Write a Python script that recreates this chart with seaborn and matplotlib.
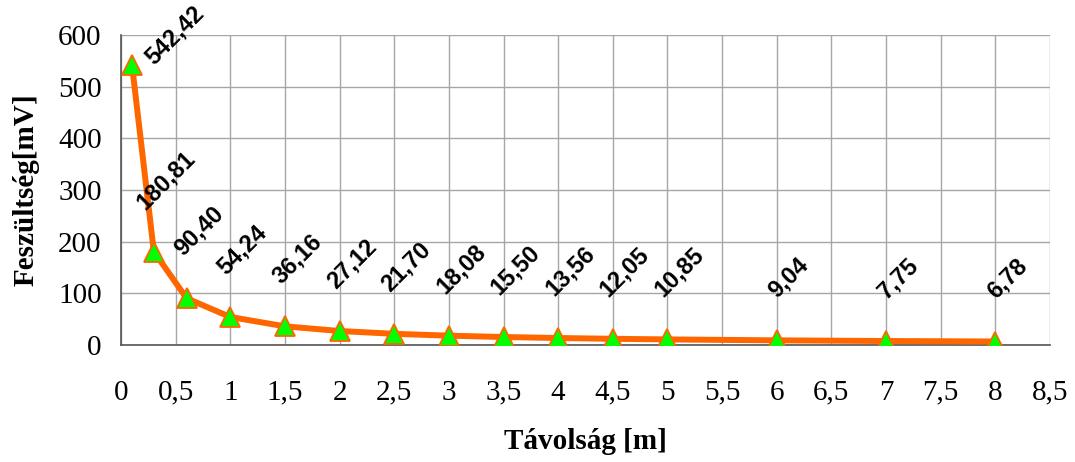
import matplotlib
matplotlib.use("Agg")
import matplotlib.pyplot as plt
from matplotlib.ticker import FuncFormatter, MultipleLocator
import seaborn as sns
import pandas as pd

# Measured voltage versus distance
distance_m = [0.1, 0.3, 0.6, 1, 1.5, 2, 2.5, 3, 3.5, 4, 4.5, 5, 6, 7, 8]
voltage_mv = [542.42, 180.81, 90.40, 54.24, 36.16, 27.12, 21.70, 18.08,
              15.50, 13.56, 12.05, 10.85, 9.04, 7.75, 6.78]

x_label = "Távolság [m]"
y_label = "Feszültség[mV]"

df = pd.DataFrame({"d": distance_m, "u": voltage_mv})

sns.set_theme(style="white")
plt.rcParams["font.family"] = ["Liberation Serif", "DejaVu Serif"]
plt.rcParams["text.color"] = "black"

fig = plt.figure(figsize=(10.75, 4.62), dpi=100)
ax = fig.add_axes([0.1126, 0.2532, 0.8641, 0.6710])

orange = "#FF6600"
sns.lineplot(data=df, x="d", y="u", ax=ax, color=orange, linewidth=4.3,
             marker="^", markersize=15, markerfacecolor="#00FF00",
             markeredgecolor=orange, markeredgewidth=1.3, zorder=3)

ax.set_xlim(0, 8.5)
ax.set_ylim(0, 600)
ax.xaxis.set_major_locator(MultipleLocator(0.5))
ax.yaxis.set_major_locator(MultipleLocator(100))


def comma(v, _pos=None):
    s = f"{v:g}"
    return s.replace(".", ",")


ax.xaxis.set_major_formatter(FuncFormatter(comma))
ax.yaxis.set_major_formatter(FuncFormatter(comma))

ax.grid(True, color="#a6a6a6", linewidth=1.0)
ax.set_axisbelow(True)
for side in ("top", "right"):
    ax.spines[side].set_visible(False)
for side in ("left", "bottom"):
    ax.spines[side].set_color("#555555")
    ax.spines[side].set_linewidth(1.2)

ax.tick_params(axis="both", which="major", direction="inout", length=10,
               width=1.2, color="#555555", labelsize=21, labelcolor="black")
ax.tick_params(axis="x", pad=20)
ax.tick_params(axis="y", pad=9)

ax.set_xlabel(x_label, fontsize=21, fontweight="bold", labelpad=16,
              color="black")
ax.set_ylabel(y_label, fontsize=21, fontweight="bold", labelpad=13,
              color="black")

# Value labels, rotated, above each point
label_font = dict(rotation=45, fontsize=17, fontweight="bold", color="black",
                  family=["Liberation Sans", "DejaVu Sans"],
                  annotation_clip=False, textcoords="offset pixels")
for d, u in zip(distance_m, voltage_mv):
    text = f"{u:.2f}".replace(".", ",")
    if u > 500:
        ax.annotate(text, (d, u), xytext=(9, -4), ha="left", va="bottom",
                    **label_font)
    else:
        ax.annotate(text, (d, u), xytext=(12, 38), ha="center", va="bottom",
                    **label_font)

fig.savefig("out.png", dpi=100, facecolor="white")
